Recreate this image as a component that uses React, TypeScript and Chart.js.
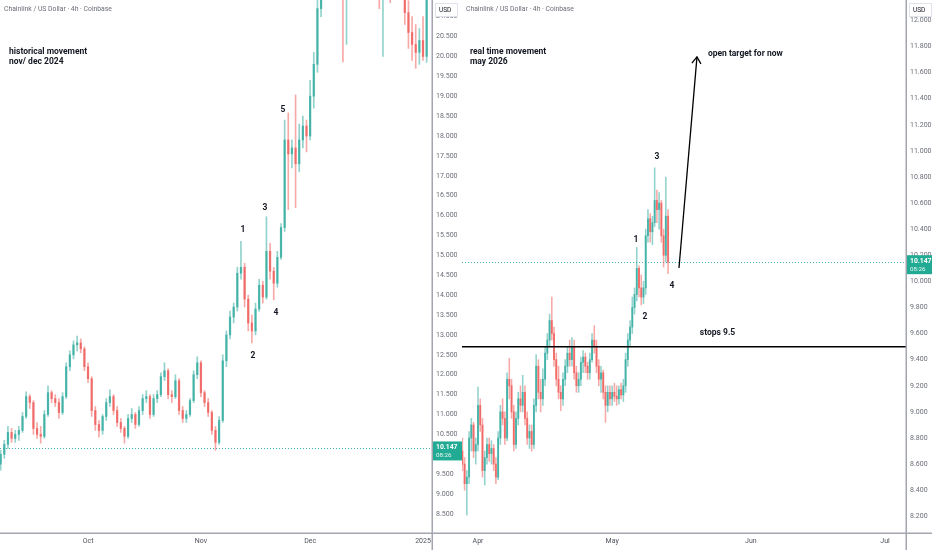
import React, { useEffect, useRef } from "react";
import { Chart, registerables } from "chart.js";

Chart.register(...registerables);

// ---------- LEFT PANEL (Sep 2024 – Jan 2025), x = day number counted from Sep 1 2024 ----------
const leftDays = [6,7,8,9,10,11,12,13,14,15,16,17,18,19,20,21,22,23,24,25,26,27,28,29,30,31,32,33,34,35,36,37,38,39,40,41,42,43,44,45,46,47,48,49,50,51,52,53,54,55,56,57,58,59,60,61,62,63,64,65,66,67,68,69,70,71,72,73,74,75,76,77,78,79,80,81,82,83,84,85,86,87,88,89,90,91,92,93,94,95,96,97,98,99,100,101,102,103,104,105,106,107,108,109,110,111,112,113,114,115,116,117,118,119,120,121,122,123,124];
const leftOpen = [9.75,10.0,10.25,10.55,10.4,10.5,10.6,10.95,11.45,11.3,10.65,10.5,10.45,11.0,11.55,11.4,11.3,11.05,11.45,12.2,12.5,12.75,12.8,12.65,12.2,11.9,11.1,10.75,10.6,10.95,11.3,11.45,11.1,10.8,10.65,10.45,10.9,11.0,10.75,11.1,11.4,11.45,11.0,11.4,11.5,11.95,12.1,11.5,11.45,11.85,11.1,10.9,11.0,11.35,12.0,12.3,11.55,11.3,11.05,10.6,10.3,10.85,12.35,13.0,13.45,13.7,14.55,14.7,13.9,13.3,13.1,13.65,14.25,13.95,15.1,14.6,14.3,14.95,15.7,17.9,17.55,17.7,17.3,17.9,18.25,18.0,19.0,19.8,21.2,23.0,24.3,24.8,25.4,25.0,23.0,21.8,23.5,25.0,27.5,28.5,27.5,26.8,25.0,23.0,22.0,21.8,22.1,22.8,21.9,22.2,22.0,21.8,21.1,20.6,20.3,20.1,20.4,20.0,21.8];
const leftHigh = [10.1,10.35,10.7,10.65,10.6,10.7,11.05,11.57,11.5,11.35,10.8,10.7,11.1,11.72,11.6,11.5,11.4,11.55,12.3,12.6,12.85,12.97,12.9,12.7,12.3,11.95,11.2,10.85,11.0,11.4,11.62,11.5,11.2,10.9,10.7,11.0,11.15,11.05,11.2,11.5,11.6,11.5,11.5,11.6,12.05,12.3,12.15,11.6,12.0,11.9,11.2,11.1,11.4,12.1,12.45,12.35,11.6,11.4,11.1,10.7,10.95,12.5,13.1,13.6,13.8,14.7,15.35,14.8,14.0,13.5,13.8,14.4,14.35,15.97,15.3,14.7,15.1,15.8,18.4,18.58,17.9,19.03,18.3,18.5,18.4,19.4,20.1,21.6,23.5,25.0,25.5,26.0,26.2,25.6,24.0,24.0,25.5,28.0,30.0,29.0,28.5,27.2,25.8,23.5,22.8,22.5,23.2,23.0,22.6,22.8,22.4,22.0,21.4,21.0,20.8,20.7,21.0,22.0,22.6];
const leftLow = [9.6,9.9,10.15,10.3,10.3,10.35,10.55,10.9,11.15,10.5,10.4,10.28,10.4,10.95,11.3,11.2,10.9,11.0,11.4,12.1,12.4,12.6,12.55,12.1,11.8,10.95,10.6,10.43,10.5,10.85,11.2,11.0,10.7,10.55,10.28,10.4,10.8,10.65,10.7,11.0,11.3,10.9,10.95,11.3,11.45,11.85,11.4,11.3,11.4,11.0,10.8,10.8,10.95,11.3,11.9,11.45,11.2,10.95,10.5,10.1,10.25,10.8,12.2,12.9,13.3,13.6,14.4,13.7,13.1,12.8,13.0,13.6,13.8,13.9,14.4,13.88,14.2,14.9,15.6,16.15,17.2,16.2,17.1,17.7,17.6,17.9,18.7,19.6,21.0,22.5,23.5,24.2,24.6,22.0,19.86,20.3,23.0,24.5,27.0,26.5,26.0,24.5,22.5,21.5,21.2,20.0,21.6,21.35,21.5,21.7,21.5,20.8,20.2,19.9,19.7,19.8,19.9,19.85,21.5];
const leftClose = [10.0,10.25,10.55,10.4,10.5,10.6,10.95,11.45,11.3,10.65,10.5,10.45,11.0,11.55,11.4,11.3,11.05,11.45,12.2,12.5,12.75,12.8,12.65,12.2,11.9,11.1,10.75,10.6,10.95,11.3,11.45,11.1,10.8,10.65,10.45,10.9,11.0,10.75,11.1,11.4,11.45,11.0,11.4,11.5,11.95,12.1,11.5,11.45,11.85,11.1,10.9,11.0,11.35,12.0,12.3,11.55,11.3,11.05,10.6,10.3,10.85,12.35,13.0,13.45,13.7,14.55,14.7,13.9,13.3,13.1,13.65,14.25,13.95,15.1,14.6,14.3,14.95,15.7,17.9,17.55,17.7,17.3,17.9,18.25,18.0,19.0,19.8,21.2,23.0,24.3,24.8,25.4,25.0,23.0,21.8,23.5,25.0,27.5,28.5,27.5,26.8,25.0,23.0,22.0,21.8,22.1,22.8,21.9,22.2,22.0,21.8,21.1,20.6,20.3,20.1,20.4,20.0,21.8,22.3];
const leftMonthTicks = [30, 61, 91, 122];
const leftMonthLabels = ["Oct", "Nov", "Dec", "2025"];
const leftPriceTicks = [8.5,9.0,9.5,10.0,10.5,11.0,11.5,12.0,12.5,13.0,13.5,14.0,14.5,15.0,15.5,16.0,16.5,17.0,17.5,18.0,18.5,19.0,19.5,20.0,20.5,21.0];
const leftWaveLabels = ["1", "2", "3", "4", "5"];
const leftWaveX = [72.56, 75.31, 78.6, 81.62, 83.55];
const leftWaveY = [15.64, 12.47, 16.19, 13.55, 18.65];

// ---------- RIGHT PANEL (Mar – Jul 2026), x = day number counted from Mar 1 2026 ----------
const rightTimes = [27.5,28,28.5,29,29.5,30,30.5,31,31.5,32,32.5,33,33.5,34,34.5,35,35.5,36,36.5,37,37.5,38,38.5,39,39.5,40,40.5,41,41.5,42,42.5,43,43.5,44,44.5,45,45.5,46,46.5,47,47.5,48,48.5,49,49.5,50,50.5,51,51.5,52,52.5,53,53.5,54,54.5,55,55.5,56,56.5,57,57.5,58,58.5,59,59.5,60,60.5,61,61.5,62,62.5,63,63.5,64,64.5,65,65.5,66,66.5,67,67.5,68,68.5,69,69.5,70,70.5,71,71.5,72,72.5,73,73.5];
const rightOpen = [8.7,8.6,8.45,8.5,8.8,8.9,8.7,8.75,9.05,8.9,8.55,8.65,8.75,8.68,8.72,8.6,8.5,8.8,9.0,8.95,8.8,9.25,9.2,9.0,8.75,8.95,9.1,9.05,9.15,8.95,8.8,8.85,8.75,9.05,9.35,9.15,9.1,9.25,9.45,9.55,9.7,9.6,9.4,9.25,9.15,9.1,9.25,9.35,9.45,9.4,9.5,9.3,9.2,9.25,9.38,9.42,9.35,9.3,9.4,9.55,9.5,9.35,9.25,9.3,9.15,9.05,9.15,9.1,9.15,9.12,9.1,9.17,9.13,9.2,9.4,9.55,9.65,9.8,9.9,10.1,9.95,9.88,9.95,10.35,10.48,10.38,10.45,10.62,10.55,10.6,10.35,10.2,10.5];
const rightHigh = [8.8,8.65,8.55,8.85,8.95,8.92,8.8,9.19,9.1,8.95,8.7,8.8,8.8,8.78,8.75,8.65,8.85,9.05,9.1,9.0,9.3,9.41,9.25,9.05,9.0,9.15,9.2,9.28,9.2,9.0,8.9,8.9,9.1,9.44,9.4,9.25,9.33,9.5,9.6,9.75,9.88,9.65,9.45,9.35,9.2,9.3,9.4,9.5,9.55,9.57,9.55,9.35,9.3,9.42,9.47,9.45,9.38,9.45,9.6,9.66,9.55,9.4,9.35,9.32,9.2,9.2,9.2,9.2,9.22,9.2,9.2,9.22,9.25,9.45,9.6,9.7,9.88,9.95,10.26,10.12,10.05,10.0,10.4,10.55,10.52,10.5,10.87,10.7,10.68,10.62,10.4,10.8,10.55];
const rightLow = [8.55,8.4,8.21,8.45,8.7,8.65,8.6,8.7,8.85,8.5,8.44,8.6,8.62,8.6,8.55,8.45,8.48,8.75,8.9,8.75,8.78,9.1,8.95,8.7,8.72,8.9,9.0,9.0,8.9,8.75,8.72,8.7,8.72,9.0,9.1,9.0,9.05,9.2,9.4,9.5,9.55,9.35,9.2,9.1,9.01,9.05,9.2,9.3,9.35,9.35,9.25,9.15,9.15,9.2,9.3,9.3,9.25,9.25,9.38,9.45,9.3,9.2,9.15,9.1,8.92,9.0,9.05,9.05,9.08,9.05,9.06,9.1,9.08,9.15,9.35,9.5,9.6,9.75,9.85,9.88,9.82,9.83,9.9,10.3,10.3,10.28,10.42,10.45,10.4,10.3,10.11,10.15,10.06];
const rightClose = [8.6,8.45,8.5,8.8,8.9,8.7,8.75,9.05,8.9,8.55,8.65,8.75,8.68,8.72,8.6,8.5,8.8,9.0,8.95,8.8,9.25,9.2,9.0,8.75,8.95,9.1,9.05,9.15,8.95,8.8,8.85,8.75,9.05,9.35,9.15,9.1,9.25,9.45,9.55,9.7,9.6,9.4,9.25,9.15,9.1,9.25,9.35,9.45,9.4,9.5,9.3,9.2,9.25,9.38,9.42,9.35,9.3,9.4,9.55,9.5,9.35,9.25,9.3,9.15,9.05,9.15,9.1,9.15,9.12,9.1,9.17,9.13,9.2,9.4,9.55,9.65,9.8,9.9,10.1,9.95,9.88,9.95,10.35,10.48,10.38,10.45,10.62,10.55,10.6,10.35,10.2,10.5,10.147];
const rightMonthTicks = [31, 61, 92, 122];
const rightMonthLabels = ["Apr", "May", "Jun", "Jul"];
const rightPriceTicks = [8.2,8.4,8.6,8.8,9.0,9.2,9.4,9.6,9.8,10.0,10.2,10.4,10.6,10.8,11.0,11.2,11.4,11.6,11.8,12.0];
const rightWaveLabels = ["1", "2", "3", "4"];
const rightWaveX = [66.33, 68.34, 71.02, 74.37];
const rightWaveY = [10.317, 9.727, 10.953, 9.965];

const lastPrice = 10.147;
const countdown = "08:26";
const stopPrice = 9.5;

const TITLE = "Chainlink / US Dollar · 4h · Coinbase";
const FONT = "Roboto, 'Liberation Sans', sans-serif";
const UP_BODY = "rgba(38,166,154,0.72)";
const DOWN_BODY = "rgba(239,83,80,0.72)";
const UP_WICK = "rgba(38,166,154,0.5)";
const DOWN_WICK = "rgba(239,83,80,0.5)";

type TextItem = { x: number; y: number; lines: string[] };
type Arrow = { x1: number; y1: number; x2: number; y2: number };

type PanelCfg = {
  width: number;
  axisWidth: number;
  times: number[];
  open: number[];
  high: number[];
  low: number[];
  close: number[];
  xMin: number;
  xMax: number;
  yMin: number;
  yMax: number;
  xTicks: number[];
  xLabels: string[];
  yTicks: number[];
  bodyW: number;
  wickW: number;
  waveLabels: string[];
  waveX: number[];
  waveY: number[];
  texts: TextItem[];
  arrows: Arrow[];
  hlines: { y: number; label: string; lx: number; ly: number }[];
};

function makeOverlay(cfg: PanelCfg) {
  return {
    id: "overlay",
    beforeDatasetsDraw(chart: any) {
      const { ctx, chartArea: ca, scales } = chart;
      const py = Math.round(scales.y.getPixelForValue(lastPrice)) + 0.5;
      ctx.save();
      ctx.strokeStyle = "rgba(38,166,154,0.85)";
      ctx.lineWidth = 1;
      ctx.setLineDash([1, 2]);
      ctx.beginPath();
      ctx.moveTo(ca.left, py);
      ctx.lineTo(ca.right, py);
      ctx.stroke();
      ctx.restore();
    },
    afterDatasetsDraw(chart: any) {
      const { ctx, chartArea: ca, scales } = chart;
      const xs = scales.x;
      const ys = scales.y;
      ctx.save();
      for (const h of cfg.hlines) {
        const y = ys.getPixelForValue(h.y);
        ctx.strokeStyle = "#000";
        ctx.lineWidth = 1.5;
        ctx.beginPath();
        ctx.moveTo(ca.left, y);
        ctx.lineTo(ca.right, y);
        ctx.stroke();
        ctx.fillStyle = "#131722";
        ctx.font = `bold 8.5px ${FONT}`;
        ctx.textAlign = "left";
        ctx.textBaseline = "middle";
        ctx.fillText(h.label, xs.getPixelForValue(h.lx), ys.getPixelForValue(h.ly));
      }
      for (const a of cfg.arrows) {
        const x1 = xs.getPixelForValue(a.x1);
        const y1 = ys.getPixelForValue(a.y1);
        const x2 = xs.getPixelForValue(a.x2);
        const y2 = ys.getPixelForValue(a.y2);
        ctx.strokeStyle = "#000";
        ctx.lineWidth = 1.3;
        ctx.beginPath();
        ctx.moveTo(x1, y1);
        ctx.lineTo(x2, y2);
        ctx.stroke();
        const ang = Math.atan2(y2 - y1, x2 - x1);
        const hl = 8;
        ctx.beginPath();
        ctx.moveTo(x2 - hl * Math.cos(ang - 0.6), y2 - hl * Math.sin(ang - 0.6));
        ctx.lineTo(x2, y2);
        ctx.lineTo(x2 - hl * Math.cos(ang + 0.6), y2 - hl * Math.sin(ang + 0.6));
        ctx.stroke();
      }
      ctx.fillStyle = "#131722";
      ctx.font = `bold 8.5px ${FONT}`;
      ctx.textAlign = "center";
      ctx.textBaseline = "middle";
      cfg.waveLabels.forEach((l, i) => {
        ctx.fillText(l, xs.getPixelForValue(cfg.waveX[i]), ys.getPixelForValue(cfg.waveY[i]));
      });
      ctx.textAlign = "left";
      for (const t of cfg.texts) {
        const x = xs.getPixelForValue(t.x);
        const y = ys.getPixelForValue(t.y);
        t.lines.forEach((line, i) => ctx.fillText(line, x, y + i * 9.5));
      }
      ctx.restore();
    },
    afterDraw(chart: any) {
      const { ctx, chartArea: ca, scales, width, height } = chart;
      ctx.save();
      ctx.fillStyle = "#6a6d78";
      ctx.font = `6.8px ${FONT}`;
      ctx.textAlign = "left";
      ctx.textBaseline = "middle";
      ctx.fillText(TITLE, ca.left + 4, 9);
      ctx.strokeStyle = "#a3a6af";
      ctx.lineWidth = 1.5;
      ctx.beginPath();
      ctx.moveTo(ca.right + 0.25, 0);
      ctx.lineTo(ca.right + 0.25, height);
      ctx.moveTo(0, ca.bottom + 0.25);
      ctx.lineTo(width, ca.bottom + 0.25);
      ctx.stroke();
      const bx = ca.right + 3;
      ctx.fillStyle = "#ffffff";
      ctx.fillRect(bx, 3, 23, 14);
      ctx.strokeStyle = "#e0e3eb";
      ctx.lineWidth = 1;
      ctx.strokeRect(bx + 0.5, 3.5, 22, 13);
      ctx.fillStyle = "#131722";
      ctx.font = `6.5px ${FONT}`;
      ctx.fillText("USD", bx + 4, 10.5);
      const py = scales.y.getPixelForValue(lastPrice);
      const pw = cfg.axisWidth;
      ctx.fillStyle = "#22ab94";
      ctx.fillRect(ca.right + 1, py - 7, pw - 1, 19);
      ctx.fillStyle = "#ffffff";
      ctx.font = `bold 6.8px ${FONT}`;
      ctx.fillText(lastPrice.toFixed(3), ca.right + 4, py - 1);
      ctx.font = `6.2px ${FONT}`;
      ctx.fillStyle = "rgba(255,255,255,0.9)";
      ctx.fillText(countdown, ca.right + 4, py + 7);
      ctx.restore();
    },
  };
}

function Panel({ cfg }: { cfg: PanelCfg }) {
  const ref = useRef<HTMLCanvasElement | null>(null);
  useEffect(() => {
    if (!ref.current) return;
    const up = (i: number) => cfg.close[i] >= cfg.open[i];
    const wicks = cfg.times.map((t, i) => ({ x: t, y: [cfg.low[i], cfg.high[i]] }));
    const bodies = cfg.times.map((t, i) => ({ x: t, y: [cfg.open[i], cfg.close[i]] }));
    const chart = new Chart(ref.current, {
      type: "bar",
      data: {
        datasets: [
          {
            data: wicks as any,
            backgroundColor: (c: any) => (up(c.dataIndex) ? UP_WICK : DOWN_WICK),
            barThickness: cfg.wickW,
            grouped: false,
            borderWidth: 0,
            order: 2,
          } as any,
          {
            data: bodies as any,
            backgroundColor: (c: any) => (up(c.dataIndex) ? UP_BODY : DOWN_BODY),
            barThickness: cfg.bodyW,
            grouped: false,
            borderWidth: 0,
            minBarLength: 1,
            order: 1,
          } as any,
        ],
      },
      options: {
        animation: false,
        responsive: false,
        events: [],
        layout: { padding: 0 },
        plugins: { legend: { display: false }, tooltip: { enabled: false } },
        scales: {
          x: {
            type: "linear",
            min: cfg.xMin,
            max: cfg.xMax,
            offset: false,
            grid: { display: false, drawTicks: false },
            border: { display: false },
            afterBuildTicks: (s: any) => {
              s.ticks = cfg.xTicks.map((v) => ({ value: v }));
            },
            afterFit: (s: any) => {
              s.height = 17;
              s.paddingLeft = 0;
              s.paddingRight = 0;
            },
            ticks: {
              autoSkip: false,
              maxRotation: 0,
              padding: 4,
              color: "#50535e",
              font: { size: 7, family: FONT },
              callback: (v: any) => {
                const k = cfg.xTicks.indexOf(Number(v));
                return k >= 0 ? cfg.xLabels[k] : "";
              },
            },
          },
          y: {
            type: "linear",
            position: "right",
            min: cfg.yMin,
            max: cfg.yMax,
            grid: { display: false, drawTicks: false },
            border: { display: false },
            afterBuildTicks: (s: any) => {
              s.ticks = cfg.yTicks.map((v) => ({ value: v }));
            },
            afterFit: (s: any) => {
              s.width = cfg.axisWidth;
              s.paddingTop = 0;
              s.paddingBottom = 0;
            },
            ticks: {
              padding: 4,
              crossAlign: "near",
              color: "#6a6d78",
              font: { size: 7, family: FONT },
              callback: (v: any) => Number(v).toFixed(3),
            },
          },
        },
      } as any,
      plugins: [makeOverlay(cfg)],
    });
    return () => chart.destroy();
  }, [cfg]);
  return <canvas ref={ref} width={cfg.width} height={550} style={{ display: "block", width: cfg.width, height: 550 }} />;
}

const leftCfg: PanelCfg = {
  width: 462,
  axisWidth: 30,
  times: leftDays,
  open: leftOpen,
  high: leftHigh,
  low: leftLow,
  close: leftClose,
  xMin: 5.82,
  xMax: 124.47,
  yMin: 8.022,
  yMax: 21.417,
  xTicks: leftMonthTicks,
  xLabels: leftMonthLabels,
  yTicks: leftPriceTicks,
  bodyW: 1.6,
  wickW: 1,
  waveLabels: leftWaveLabels,
  waveX: leftWaveX,
  waveY: leftWaveY,
  texts: [{ x: 8.3, y: 20.11, lines: ["historical movement", "nov/ dec 2024"] }],
  arrows: [],
  hlines: [],
};

const rightCfg: PanelCfg = {
  width: 470,
  axisWidth: 26,
  times: rightTimes,
  open: rightOpen,
  high: rightHigh,
  low: rightLow,
  close: rightClose,
  xMin: 27.42,
  xMax: 126.7,
  yMin: 8.072,
  yMax: 12.156,
  xTicks: rightMonthTicks,
  xLabels: rightMonthLabels,
  yTicks: rightPriceTicks,
  bodyW: 1.3,
  wickW: 0.9,
  waveLabels: rightWaveLabels,
  waveX: rightWaveX,
  waveY: rightWaveY,
  texts: [
    { x: 29.2, y: 11.758, lines: ["real time movement", "may 2026"] },
    { x: 82.4, y: 11.745, lines: ["open target for now"] },
  ],
  arrows: [{ x1: 75.94, y1: 10.103, x2: 79.96, y2: 11.72 }],
  hlines: [{ y: stopPrice, label: "stops 9.5", lx: 80.6, ly: 9.605 }],
};

export default function App() {
  return (
    <div style={{ position: "fixed", left: 0, top: 0, width: 932, height: 550, background: "#fff", display: "flex" }}>
      <Panel cfg={leftCfg} />
      <Panel cfg={rightCfg} />
    </div>
  );
}
